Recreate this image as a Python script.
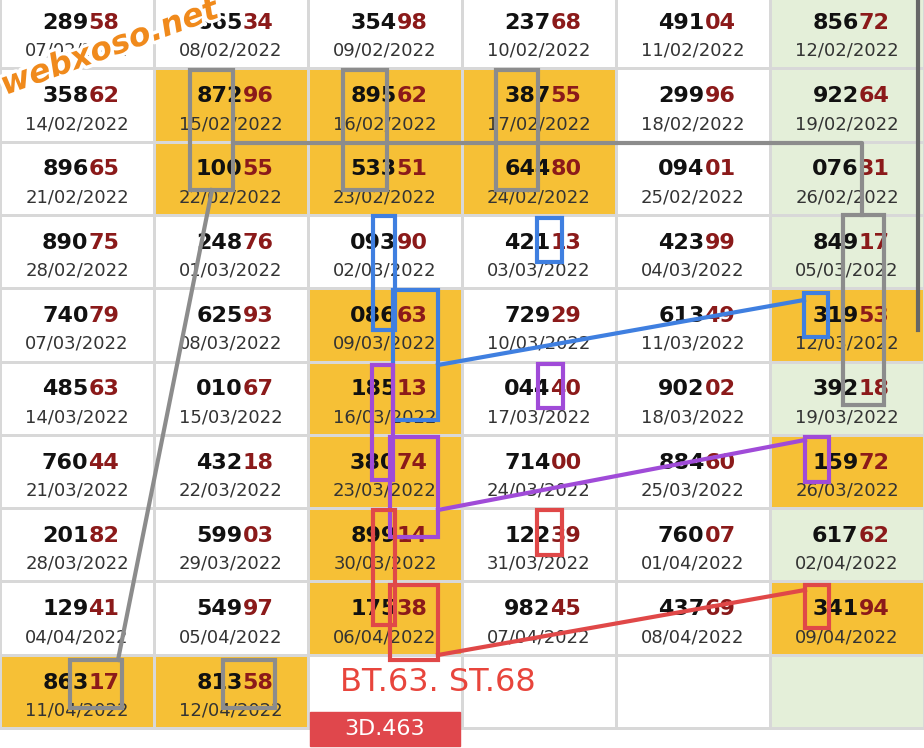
import numpy as np, pandas as pd, seaborn as sns, matplotlib
matplotlib.use("Agg")
import matplotlib.pyplot as plt
from matplotlib.colors import ListedColormap
import matplotlib.patheffects as pe

numbers = [
 ["28958","86534","35498","23768","49104","85672"],
 ["35862","87296","89562","38755","29996","92264"],
 ["89665","10055","53351","64480","09401","07631"],
 ["89075","24876","09390","42113","42399","84917"],
 ["74079","62593","08663","72929","61349","31953"],
 ["48563","01067","18513","04440","90202","39218"],
 ["76044","43218","38074","71400","88460","15972"],
 ["20182","59903","89914","12239","76007","61762"],
 ["12941","54997","17538","98245","43769","34194"],
 ["86317","81358","","","",""],
]
dates = [
 ["07/02/2022","08/02/2022","09/02/2022","10/02/2022","11/02/2022","12/02/2022"],
 ["14/02/2022","15/02/2022","16/02/2022","17/02/2022","18/02/2022","19/02/2022"],
 ["21/02/2022","22/02/2022","23/02/2022","24/02/2022","25/02/2022","26/02/2022"],
 ["28/02/2022","01/03/2022","02/03/2022","03/03/2022","04/03/2022","05/03/2022"],
 ["07/03/2022","08/03/2022","09/03/2022","10/03/2022","11/03/2022","12/03/2022"],
 ["14/03/2022","15/03/2022","16/03/2022","17/03/2022","18/03/2022","19/03/2022"],
 ["21/03/2022","22/03/2022","23/03/2022","24/03/2022","25/03/2022","26/03/2022"],
 ["28/03/2022","29/03/2022","30/03/2022","31/03/2022","01/04/2022","02/04/2022"],
 ["04/04/2022","05/04/2022","06/04/2022","07/04/2022","08/04/2022","09/04/2022"],
 ["11/04/2022","12/04/2022","","","",""],
]
# 0 white, 1 orange highlight, 2 green (Sunday column)
cell_kind = [
 [0,0,0,0,0,2],
 [0,1,1,1,0,2],
 [0,1,1,1,0,2],
 [0,0,0,0,0,2],
 [0,0,1,0,0,1],
 [0,0,1,0,0,2],
 [0,0,1,0,0,1],
 [0,0,1,0,0,2],
 [0,0,1,0,0,1],
 [1,1,0,0,0,2],
]

W, H = 924, 748
CW, RH, OFF = 154.0, 73.3, 5.0
fig = plt.figure(figsize=(9.24, 7.48), dpi=100)
ax = fig.add_axes([0, 0, 1, 1])
cmap = ListedColormap(["#FFFFFF", "#F6C036", "#E4EFD9"])
sns.heatmap(pd.DataFrame(cell_kind), cmap=cmap, vmin=-0.5, vmax=2.5, cbar=False,
            linewidths=1, linecolor="#D8D8D8", ax=ax)
ax.set_xlim(0, W / CW)
ax.set_ylim((H + OFF) / RH, OFF / RH)
ax.axis("off")

for r in range(len(numbers)):
    for c in range(6):
        n = numbers[r][c]
        if not n:
            continue
        ax.text(c + 0.575, r + 0.38, n[:3], ha="right", va="center", fontsize=16,
                fontweight="bold", color="#111111")
        ax.text(c + 0.575, r + 0.38, n[3:], ha="left", va="center", fontsize=16,
                fontweight="bold", color="#8B1A1A")
        ax.text(c + 0.5, r + 0.76, dates[r][c], ha="center", va="center",
                fontsize=13, color="#333333")

def P(x, y):
    return x / CW, (y + OFF) / RH

def rect(x0, y0, x1, y1, col):
    a, b = P(x0, y0); c, d = P(x1, y1)
    ax.add_patch(plt.Rectangle((a, b), c - a, d - b, fill=False, ec=col, lw=3, zorder=5))

def line(pts, col):
    xs, ys = zip(*[P(*p) for p in pts])
    ax.plot(xs, ys, color=col, lw=3, zorder=5)

g, bl, pu, rd = "#8C8C8C", "#3F7FE0", "#A04BD8", "#E04848"
for b in [(190,70,233,190),(343,70,387,190),(496,70,538,190),(843,215,884,405),
          (70,660,122,708),(223,660,275,708)]:
    rect(*b, g)
line([(233,143),(862,143),(862,215)], g)
line([(212,190),(118,660)], g)
for b in [(373,216,395,330),(537,218,562,262),(393,290,438,420),(804,293,828,337)]:
    rect(*b, bl)
line([(438,365),(804,300)], bl)
for b in [(372,365,393,480),(538,364,563,408),(390,437,438,537),(805,437,829,482)]:
    rect(*b, pu)
line([(438,510),(805,440)], pu)
for b in [(373,510,395,625),(537,510,562,555),(390,585,438,660),(805,585,829,628)]:
    rect(*b, rd)
line([(438,655),(805,590)], rd)

ax.text(*P(438, 682), "BT.63. ST.68", ha="center", va="center", fontsize=23,
        color="#E8453C", zorder=6)
a, b = P(310, 712); c, d = P(460, 746)
ax.add_patch(plt.Rectangle((a, b), c - a, d - b, color="#E0474C", zorder=6))
ax.text(*P(385, 729), "3D.463", ha="center", va="center", fontsize=16,
        color="white", zorder=7)
ax.text(*P(110, 48), "webxoso.net", ha="center", va="center", fontsize=23,
        fontweight="bold", style="italic", color="#F08A1C", rotation=20, zorder=8,
        path_effects=[pe.withStroke(linewidth=5, foreground="white")])
line([(918,0),(918,330)], "#666666")
fig.savefig("out.png", dpi=100)
